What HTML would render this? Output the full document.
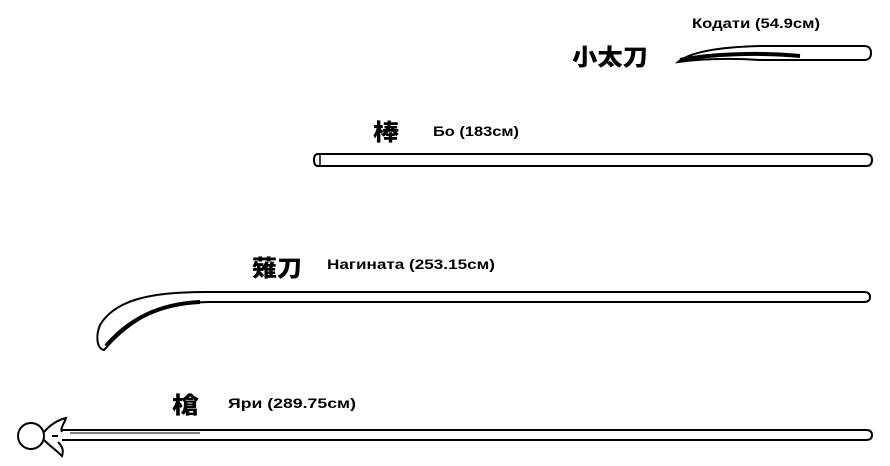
<!DOCTYPE html>
<html><head><meta charset="utf-8"><style>
html,body{margin:0;padding:0;background:#fff;}
svg{display:block}
.t{font-family:"Liberation Sans",sans-serif;font-size:14px;font-weight:bold;fill:#000}
.k{font-family:"Liberation Sans","Noto Sans CJK JP",sans-serif;font-size:23px;font-weight:900;fill:#000}
</style></head><body>
<svg width="890" height="466" viewBox="0 0 890 466" xmlns="http://www.w3.org/2000/svg">
<g fill="none" stroke="#000" stroke-width="2">
<path d="M678,62 C690,52 720,47 760,46 L864,46 Q871,46 871,53 Q871,60 864,60 L760,60 C730,58 700,59 678,62 Z" fill="#fff"/>
<path d="M680,60 C710,54 760,52 800,56" stroke-width="4"/>
<path d="M318,154 L866,154 Q872,154 872,160 Q872,166 866,166 L318,166 Q314,166 314,160 Q314,154 318,154 Z"/>
<line x1="320" y1="154" x2="320" y2="166" stroke-width="1.5"/>
<path d="M205,292 L864,292 Q870,292 870,297 Q870,302 864,302 L210,302 C160,302 130,320 104,350 C96,348 96,335 100,325 C115,300 150,292 205,292 Z"/>
<path d="M106,346 C130,318 160,304 200,302" stroke-width="4"/>
<path d="M62,430 L866,430 Q872,430 872,435 Q872,440 866,440 L62,440"/>
<circle cx="31" cy="436" r="13"/>
<path d="M44,432 C50,425 58,420 66,418 C64,424 60,428 62,432"/>
<path d="M44,440 C50,446 56,450 62,456 C64,450 62,446 58,442"/>
<path d="M52,436 L58,436"/>
<path d="M70,433 L200,433" stroke-width="1"/>
</g>
<text class="t" x="692" y="28" textLength="128" lengthAdjust="spacingAndGlyphs">Кодати (54.9см)</text>
<text class="k" x="572" y="65" textLength="76" lengthAdjust="spacingAndGlyphs">小太刀</text>
<text class="k" x="373" y="140" textLength="26" lengthAdjust="spacingAndGlyphs">棒</text>
<text class="t" x="433" y="136" textLength="86" lengthAdjust="spacingAndGlyphs">Бо (183см)</text>
<text class="k" x="252" y="276" textLength="50" lengthAdjust="spacingAndGlyphs">薙刀</text>
<text class="t" x="327" y="269" textLength="168" lengthAdjust="spacingAndGlyphs">Нагината (253.15см)</text>
<text class="k" x="172" y="413" textLength="27" lengthAdjust="spacingAndGlyphs">槍</text>
<text class="t" x="228" y="408" textLength="128" lengthAdjust="spacingAndGlyphs">Яри (289.75см)</text>
</svg>
</body></html>
